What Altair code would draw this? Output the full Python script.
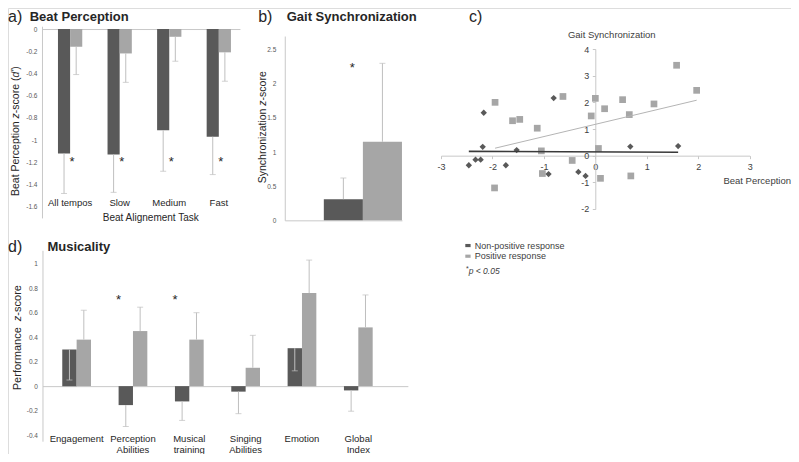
import altair as alt
import pandas as pd

# ---------------- data ----------------
SERIES = ["Non-positive response", "Positive response"]

# a) Beat Perception
beat_tasks = ["All tempos", "Slow", "Medium", "Fast"]
beat_nonpos = [-1.12, -1.13, -0.91, -0.97]
beat_nonpos_err = [-1.48, -1.47, -1.28, -1.31]
beat_pos = [-0.16, -0.22, -0.07, -0.21]
beat_pos_err = [-0.41, -0.48, -0.29, -0.47]
beat_star_tasks = ["All tempos", "Slow", "Medium", "Fast"]
beat_star_level = [-1.165, -1.165, -1.165, -1.165]
beat_ticks = [0, -0.2, -0.4, -0.6, -0.8, -1, -1.2, -1.4, -1.6]

# b) Gait Synchronization
gait_cats = ["Gait"]
gait_nonpos = [0.31]
gait_nonpos_err = [0.62]
gait_pos = [1.15]
gait_pos_err = [2.30]
gait_star_level = [2.29]
gait_ticks = [0, 0.5, 1, 1.5, 2, 2.5]

# c) scatter
pos_x = [-1.95, -1.61, -1.47, -1.13, -0.63, -1.05, -1.03, -0.45, -0.08, 0.00,
         0.18, 0.06, 0.10, 0.53, 0.66, 0.69, 1.14, 1.58, 1.97, -1.96]
pos_y = [2.00, 1.31, 1.36, 1.03, 2.22, 0.18, -0.67, -0.18, 1.49, 2.15,
         1.76, 0.27, -0.85, 2.10, 1.54, -0.76, 1.94, 3.39, 2.45, -1.21]
nonpos_x = [-2.17, -2.19, -2.46, -2.33, -2.23, -1.74, -1.53, -0.81, -0.91, -0.33,
            -0.19, 0.68, 1.61]
nonpos_y = [1.61, 0.33, -0.36, -0.15, -0.15, -0.36, 0.21, 2.16, -0.69, -0.61,
            -0.76, 0.34, 0.36]
trend_pos_x = [-1.95, 1.97]
trend_pos_y = [0.28, 2.08]
trend_nonpos_x = [-2.46, 1.61]
trend_nonpos_y = [0.16, 0.13]
scat_x_ticks = [-3, -2, -1, 0, 1, 2, 3]
scat_y_ticks = [-2, -1, 0, 1, 2, 3, 4]

# d) Musicality
music_cats = ["Engagement", "Perception Abilities", "Musical training",
              "Singing Abilities", "Emotion", "Global Index"]
music_nonpos = [0.30, -0.155, -0.125, -0.045, 0.31, -0.035]
music_nonpos_err = [0.05, -0.33, -0.28, -0.225, 0.125, -0.205]
music_pos = [0.38, 0.45, 0.38, 0.15, 0.76, 0.48]
music_pos_err = [0.62, 0.645, 0.60, 0.415, 1.03, 0.745]
music_star_cats = ["Perception Abilities", "Musical training"]
music_star_level = [0.735, 0.735]
music_ticks = [-0.4, -0.2, 0, 0.2, 0.4, 0.6, 0.8, 1]

# ---------------- styling / layout ----------------
DARK, LIGHT = "#595959", "#a6a6a6"
ERR = "#bfbfbf"
AXIS = "#c8c8c8"
FONT = "Liberation Sans"
W, H = 783, 446


def X(v):
    return round((v - 2) * W / 795, 2)


def Y(v):
    return round((v - 1) * H / 460, 2)


# Arial / Liberation Sans advance widths (per 1000 em) for rich-text runs
_AW = {" ": 278, "B": 667, "P": 667, "S": 667, "a": 556, "c": 500, "d": 556,
       "e": 556, "h": 556, "i": 222, "m": 833, "n": 556, "o": 556, "p": 556,
       "r": 333, "s": 500, "t": 278, "y": 500, "z": 500, "f": 278, "l": 222,
       "-": 333, "(": 333, ")": 333, "'": 191, "*": 389, "<": 584, ".": 278,
       "0": 556, "5": 556}


def tw(s, size):
    return sum(_AW.get(ch, 556) for ch in s) * size / 1000.0


color_scale = alt.Scale(domain=SERIES, range=[DARK, LIGHT])


def long_df(cats, nonpos, pos, nonpos_err, pos_err):
    n = len(cats)
    return pd.DataFrame({
        "cat": list(cats) * 2,
        "group": [SERIES[0]] * n + [SERIES[1]] * n,
        "value": list(nonpos) + list(pos),
        "err": list(nonpos_err) + list(pos_err),
    })


def left_axis(x_img, values, size=6.5, pad=5, ticks=False, color="#595959"):
    return alt.Axis(orient="left", offset=-X(x_img), values=values,
                    labelExpr="'' + datum.value", labelFontSize=size,
                    labelColor=color, labelFont=FONT, domainColor=AXIS,
                    ticks=ticks, tickSize=3 if ticks else 0, tickColor=AXIS,
                    labelPadding=pad, grid=False, title=None,
                    labelFlush=False, labelOverlap=False)


def line_axis(y_img, orient):
    off = -Y(y_img) if orient == "top" else Y(y_img) - H
    return alt.Axis(orient=orient, offset=off, labels=False, ticks=False,
                    tickSize=0, domainColor=AXIS, grid=False, title=None)


def label_axis(y_img, size=9.5, baseline="middle", multiline=False):
    kw = dict(orient="bottom", offset=Y(y_img) - H, domain=False, ticks=False,
              tickSize=0, labelPadding=0, labelBaseline=baseline, labelAngle=0,
              labelFontSize=size, labelColor="#262626", labelFont=FONT,
              grid=False, title=None, labelOverlap=False)
    if multiline:
        kw["labelExpr"] = "split(datum.label, ' ')"
        kw["labelLineHeight"] = 11
    return alt.Axis(**kw)


def grouped_bars(df, xscale, oscale, yscale, yax, labax, baseax,
                 star_df=None, star_dx=0, star_offset=False):
    xo = alt.XOffset("group:N", scale=oscale)
    bars = alt.Chart(df).mark_bar().encode(
        x=alt.X("cat:N", scale=xscale, axis=labax),
        xOffset=xo,
        y=alt.Y("value:Q", scale=yscale, axis=yax),
        color=alt.Color("group:N", scale=color_scale, legend=None),
    )
    errs = alt.Chart(df).mark_rule(color=ERR, strokeWidth=1).encode(
        x=alt.X("cat:N", scale=xscale, axis=baseax),
        xOffset=xo,
        y=alt.Y("value:Q", scale=yscale, axis=None),
        y2="err:Q",
    )
    caps = alt.Chart(df).mark_tick(color=ERR, size=6, thickness=1).encode(
        x=alt.X("cat:N", scale=xscale, axis=None),
        xOffset=xo,
        y=alt.Y("err:Q", scale=yscale, axis=None),
    )
    out = [bars, errs, caps]
    if star_df is not None:
        enc = dict(x=alt.X("cat:N", scale=xscale, axis=None),
                   y=alt.Y("level:Q", scale=yscale, axis=None))
        if star_offset:
            enc["xOffset"] = xo
        stars = alt.Chart(star_df).mark_text(
            text="*", fontSize=13, baseline="alphabetic", dy=7.5,
            dx=star_dx, color="#262626", font=FONT).encode(**enc)
        out.append(stars)
    return out


def txt(s, x, y, size=10, weight="normal", align="left", angle=0,
        color="#262626", style="normal", view=False):
    px = x if view else X(x)
    py = y if view else Y(y)
    return alt.Chart(pd.DataFrame({"t": [s]})).mark_text(
        align=align, baseline="middle", fontSize=size, fontWeight=weight,
        angle=angle, color=color, fontStyle=style, font=FONT,
    ).encode(text="t:N", x=alt.value(px), y=alt.value(py))


def rich_vertical(runs, x, yc, size, color="#262626"):
    """Rotated (bottom-to-top) text made of (string, italic) runs, centred at yc."""
    total = sum(tw(s, size) for s, _ in runs)
    cur = Y(yc) + total / 2.0
    out = []
    for s, it in runs:
        out.append(txt(s, X(x), round(cur, 2), size=size, angle=270, align="left",
                       color=color, style="italic" if it else "normal", view=True))
        cur -= tw(s, size)
    return out


def rich_horizontal(runs, x, y, size, color="#262626"):
    cur = X(x)
    out = []
    for s, it, sz, dy in runs:
        out.append(txt(s, round(cur, 2), Y(y) + dy, size=sz, align="left",
                       color=color, style="italic" if it else "normal", view=True))
        cur += tw(s, sz)
    return out


layers = []

# ---- a) Beat Perception ----
a_df = long_df(beat_tasks, beat_nonpos, beat_pos, beat_nonpos_err, beat_pos_err)
a_x = alt.Scale(type="band", domain=beat_tasks, range=[X(36.5), X(237.5)],
                paddingInner=0.51, paddingOuter=0.252, align=0.64)
a_o = alt.Scale(domain=SERIES, paddingInner=0, paddingOuter=0)
a_y = alt.Scale(domain=[-1.7, 0.025], range=[Y(217.5), Y(19.8)], nice=False)
a_star = pd.DataFrame({"cat": beat_star_tasks, "level": beat_star_level})
layers += grouped_bars(a_df, a_x, a_o, a_y,
                       left_axis(36.5, beat_ticks), label_axis(202),
                       line_axis(22.7, "top"), a_star, star_dx=2)
layers += [
    txt("a)", 2, 10.5, size=16),
    txt("Beat Perception", 24, 10, size=13, weight="bold"),
    txt("Beat Alignement Task", 147, 218, size=10, align="center"),
]
layers += rich_vertical([("Beat Perception ", False), ("z", True),
                         ("-score (", False), ("d'", True), (")", False)],
                        10, 128, 10.5)

# ---- b) Gait Synchronization ----
b_df = long_df(gait_cats, gait_nonpos, gait_pos, gait_nonpos_err, gait_pos_err)
b_x = alt.Scale(type="band", domain=gait_cats, range=[X(283), X(402)],
                paddingInner=0, paddingOuter=0)
b_o = alt.Scale(domain=["blank"] + SERIES, paddingInner=0, paddingOuter=0)
b_y = alt.Scale(domain=[0, 2.7], range=[Y(220), Y(29.9)], nice=False)
b_star = pd.DataFrame({"cat": gait_cats, "group": [SERIES[0]], "level": gait_star_level})
layers += grouped_bars(b_df, b_x, b_o, b_y,
                       left_axis(283, gait_ticks, pad=9), None,
                       line_axis(220, "bottom"), b_star, star_dx=9,
                       star_offset=True)
layers += [
    txt("b)", 256, 10.5, size=16),
    txt("Gait Synchronization", 285, 10, size=13, weight="bold"),
]
layers += rich_vertical([("Synchronization ", False), ("z", True), ("-score", False)],
                        261, 124, 10.5)

# ---- c) scatter ----
c_x = alt.Scale(domain=[-3, 3], range=[X(441.7), X(755)], nice=False)
c_y = alt.Scale(domain=[-2, 4], range=[Y(208.3), Y(43.3)], nice=False)
sq_df = pd.DataFrame({"x": pos_x, "y": pos_y})
di_df = pd.DataFrame({"x": nonpos_x, "y": nonpos_y})
tp_df = pd.DataFrame({"x": trend_pos_x, "y": trend_pos_y})
tn_df = pd.DataFrame({"x": trend_nonpos_x, "y": trend_nonpos_y})
c_xaxis = alt.Axis(orient="bottom", offset=Y(153.3) - H, values=scat_x_ticks,
                   labelExpr="'' + datum.value", labelFontSize=9,
                   labelColor="#404040", labelFont=FONT, domainColor=AXIS,
                   ticks=True, tickSize=3, tickColor=AXIS, labelPadding=4,
                   labelFlush=False, labelOverlap=False, grid=False, title=None)
c_yaxis = left_axis(598.3, scat_y_ticks, size=9, pad=3.5, ticks=True, color="#404040")
layers += [
    alt.Chart(sq_df).mark_point(shape="square", filled=True, size=45,
                                color=LIGHT, opacity=1).encode(
        x=alt.X("x:Q", scale=c_x, axis=c_xaxis),
        y=alt.Y("y:Q", scale=c_y, axis=c_yaxis)),
    alt.Chart(di_df).mark_point(shape="diamond", filled=True, size=40,
                                color=DARK, opacity=1).encode(
        x=alt.X("x:Q", scale=c_x, axis=None),
        y=alt.Y("y:Q", scale=c_y, axis=None)),
    alt.Chart(tp_df).mark_line(color="#b4b4b4", strokeWidth=1).encode(
        x=alt.X("x:Q", scale=c_x, axis=None),
        y=alt.Y("y:Q", scale=c_y, axis=None)),
    alt.Chart(tn_df).mark_line(color="#3a3a3a", strokeWidth=1.6).encode(
        x=alt.X("x:Q", scale=c_x, axis=None),
        y=alt.Y("y:Q", scale=c_y, axis=None)),
    txt("c)", 470, 10.5, size=16),
    txt("Gait Synchronization", 615, 29, size=9.5, align="center", color="#404040"),
    txt("Beat Perception", 797, 179, size=9.5, align="right", color="#404040"),
]

# ---- d) Musicality ----
d_df = long_df(music_cats, music_nonpos, music_pos, music_nonpos_err, music_pos_err)
d_x = alt.Scale(type="band", domain=music_cats, range=[X(37), X(408)],
                paddingInner=0.49, paddingOuter=0.488, align=0.36)
d_o = alt.Scale(domain=SERIES, paddingInner=0, paddingOuter=0)
d_y = alt.Scale(domain=[-0.45, 1.11], range=[Y(447.8), Y(250.9)], nice=False)
d_star = pd.DataFrame({"cat": music_star_cats, "group": [SERIES[0]] * 2,
                       "level": music_star_level})
layers += grouped_bars(d_df, d_x, d_o, d_y,
                       left_axis(37, music_ticks),
                       label_axis(440, baseline="top", multiline=True),
                       line_axis(391, "top"), d_star, star_offset=True)
layers += [
    txt("d)", 2, 247, size=16),
    txt("Musicality", 42, 247, size=13, weight="bold"),
]
layers += rich_vertical([("Performance  ", False), ("z", True), ("-score", False)],
                        12, 341, 11)

# ---- legend ----
for i, (name, col) in enumerate(zip(SERIES, [DARK, LIGHT])):
    yy = 246 + 11 * i
    layers.append(
        alt.Chart(pd.DataFrame({"s": [name]})).mark_point(
            shape="M-1,-0.6L1,-0.6L1,0.6L-1,0.6Z", filled=True, size=28,
            color=col, opacity=1).encode(x=alt.value(X(469)), y=alt.value(Y(yy))))
    layers.append(txt(name, 476, yy, size=9, color="#404040"))
layers += rich_horizontal([("*", False, 7, -2), ("p < 0.05", True, 8.5, 0)],
                          467, 272, 8.5, color="#404040")

chart = alt.layer(*layers).resolve_scale(
    x="independent", y="independent", xOffset="independent", color="independent"
).resolve_axis(
    x="independent", y="independent"
).properties(
    width=W, height=H, padding=0,
    autosize=alt.AutoSizeParams(type="none"),
    background="white",
).configure_view(stroke=None).configure(font=FONT)

chart.save("out.html", embed_options={"renderer": "svg", "actions": False})
